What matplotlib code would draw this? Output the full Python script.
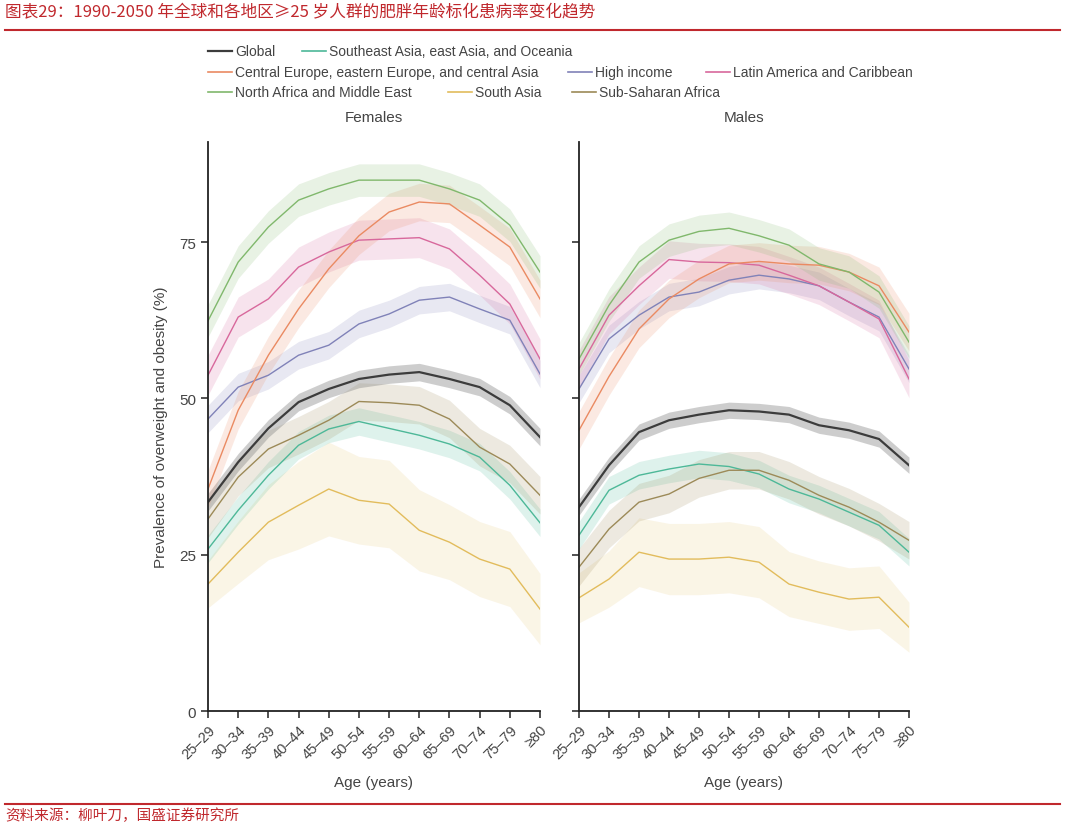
import matplotlib
matplotlib.use("Agg")
import matplotlib.pyplot as plt
from matplotlib.lines import Line2D
import numpy as np

ages = ["25–29", "30–34", "35–39", "40–44", "45–49", "50–54", "55–59",
        "60–64", "65–69", "70–74", "75–79", "≥80"]
yticks = [0, 25, 50, 75]

series_names = ["Global", "Southeast Asia, east Asia, and Oceania",
                "Central Europe, eastern Europe, and central Asia", "High income",
                "Latin America and Caribbean", "North Africa and Middle East",
                "South Asia", "Sub-Saharan Africa"]
series_colors = ["#3c3c3c", "#4db898", "#ea8a62", "#8082b8", "#d8689c",
                 "#80b86c", "#e2bc5c", "#9c8a58"]

# Females (%)
f_global = [33.4, 39.8, 45.2, 49.4, 51.5, 53.1, 53.8, 54.2, 53.1, 51.8, 48.9, 43.8]
f_sea = [25.9, 32.1, 37.7, 42.5, 45.1, 46.3, 45.2, 44.1, 42.7, 40.6, 36.1, 30.1]
f_ceu = [35.5, 48.1, 56.9, 64.3, 70.7, 76.0, 79.8, 81.4, 81.1, 77.7, 74.2, 65.9]
f_hi = [46.7, 51.8, 53.7, 56.9, 58.5, 61.9, 63.5, 65.7, 66.2, 64.3, 62.5, 53.9]
f_lat = [53.7, 63.0, 65.9, 71.0, 73.4, 75.3, 75.5, 75.7, 73.9, 69.7, 65.1, 56.3]
f_naf = [62.4, 71.8, 77.4, 81.7, 83.5, 84.9, 84.9, 84.9, 83.5, 81.7, 77.7, 70.2]
f_sas = [20.3, 25.4, 30.2, 32.9, 35.5, 33.7, 33.1, 28.9, 27.0, 24.3, 22.7, 16.3]
f_ssa = [30.7, 37.4, 41.9, 44.1, 46.5, 49.5, 49.3, 48.9, 46.7, 42.2, 39.5, 34.5]

# Males (%)
m_global = [32.6, 39.3, 44.6, 46.5, 47.4, 48.1, 47.9, 47.4, 45.7, 44.9, 43.5, 39.3]
m_sea = [28.1, 35.3, 37.7, 38.7, 39.5, 39.1, 37.9, 35.5, 33.9, 31.8, 29.7, 25.4]
m_ceu = [44.9, 53.5, 61.1, 65.9, 69.1, 71.5, 71.9, 71.5, 71.3, 70.2, 68.0, 60.6]
m_hi = [51.5, 59.5, 63.3, 66.2, 67.0, 68.9, 69.7, 69.1, 68.0, 65.4, 63.0, 54.7]
m_lat = [54.7, 63.3, 68.0, 72.2, 71.8, 71.7, 71.3, 69.7, 68.0, 65.4, 62.7, 53.1]
m_naf = [56.3, 64.9, 71.8, 75.3, 76.7, 77.2, 76.0, 74.5, 71.5, 70.2, 67.0, 59.0]
m_sas = [18.1, 21.1, 25.4, 24.3, 24.3, 24.6, 23.8, 20.3, 19.0, 17.9, 18.2, 13.4]
m_ssa = [23.0, 29.1, 33.4, 34.7, 37.2, 38.5, 38.5, 36.9, 34.5, 32.6, 30.2, 27.3]

# Half-widths of uncertainty bands (percentage points)
f_ci = [1.4, 2.2, 3.0, 2.2, 3.2, 2.6, 6.5, 3.0]
m_ci = [1.3, 2.2, 3.0, 2.2, 3.0, 2.6, 5.5, 3.0]
f_sas_ci = [3.8, 5.0, 6.0, 7.0, 7.5, 7.0, 7.0, 6.5, 6.0, 6.0, 6.0, 5.7]
m_sas_ci = [4.0, 4.5, 5.5, 5.7, 5.7, 5.7, 5.7, 5.2, 5.0, 5.0, 5.0, 4.0]

females = [f_global, f_sea, f_ceu, f_hi, f_lat, f_naf, f_sas, f_ssa]
males = [m_global, m_sea, m_ceu, m_hi, m_lat, m_naf, m_sas, m_ssa]

plt.rcParams['font.family'] = ['Liberation Sans Narrow', 'Liberation Sans', 'DejaVu Sans']
TXT = "#444444"
RED = "#c0282d"

fig = plt.figure(figsize=(10.65, 8.29), dpi=100)
W, H = 1065, 829

def px_ax(x0, x1, ytop, ybot):
    return fig.add_axes([x0 / W, 1 - ybot / H, (x1 - x0) / W, (ybot - ytop) / H])

axL = px_ax(208, 540, 143, 712)
axR = px_ax(579, 909, 143, 712)

x = np.arange(len(ages))
for ax, data, ci, sas_ci, title in [(axL, females, f_ci, f_sas_ci, "Females"),
                                    (axR, males, m_ci, m_sas_ci, "Males")]:
    order = [6, 1, 7, 0, 3, 4, 2, 5]
    for k in order:
        vals = np.array(data[k])
        hw = np.array(sas_ci) if k == 6 else np.full(len(vals), ci[k])
        col = series_colors[k]
        a = 0.42 if k == 0 else (0.15 if k == 6 else 0.18)
        fc = "#8a8a8a" if k == 0 else col
        ax.fill_between(x, vals - hw, vals + hw, color=fc, alpha=a, lw=0)
        ax.plot(x, vals, color=col, lw=1.6 if k == 0 else 1.0)
    ax.set_xlim(0, 11)
    ax.set_ylim(0, 91)
    ax.set_yticks(yticks)
    ax.set_xticks(x)
    ax.set_xticklabels(ages, rotation=45, ha="right", rotation_mode="anchor",
                       fontsize=10.5, color=TXT)
    for s in ["top", "right"]:
        ax.spines[s].set_visible(False)
    for s in ["left", "bottom"]:
        ax.spines[s].set_linewidth(1.3)
        ax.spines[s].set_color("#222222")
    ax.tick_params(axis="both", direction="out", length=5, width=1.1, color="#222222")
    ax.tick_params(axis="x", pad=3)
    ax.set_xlabel("Age (years)", fontsize=11, color=TXT, labelpad=10)
    ax.set_title(title, fontsize=11, color=TXT, pad=15)

axL.set_yticklabels([str(v) for v in yticks], fontsize=11, color=TXT)
axL.set_ylabel("Prevalence of overweight and obesity (%)", fontsize=11, color=TXT, labelpad=8)
axR.set_yticklabels([])

# Legend (manual layout)
legend_pos = [(208, 52), (302, 52), (208, 73), (568, 73), (706, 73),
              (208, 93), (448, 93), (572, 93)]
for k, (lx, ly) in enumerate(legend_pos):
    yy = 1 - ly / H
    fig.add_artist(Line2D([lx / W, (lx + 24) / W], [yy, yy],
                          color=series_colors[k], lw=1.6 if k == 0 else 1.2))
    fig.text((lx + 27) / W, yy, series_names[k], fontsize=10, color=TXT,
             va="center", ha="left")

# Title, header and footer
cjk = ['Noto Sans CJK SC', 'DejaVu Sans']
fig.text(5 / W, 1 - 13 / H, "图表29：1990-2050 年全球和各地区≥25 岁人群的肥胖年龄标化患病率变化趋势",
         fontsize=12, color=RED, style="italic", va="center", ha="left", family=cjk)
fig.add_artist(Line2D([5 / W, 1060 / W], [1 - 31 / H, 1 - 31 / H], color=RED, lw=1.5))
fig.add_artist(Line2D([5 / W, 1060 / W], [1 - 805 / H, 1 - 805 / H], color=RED, lw=1.5))
fig.text(5 / W, 1 - 816 / H, "资料来源：柳叶刀，国盛证券研究所", fontsize=10.5, color=RED,
         style="italic", va="center", ha="left", family=cjk)

fig.savefig("out.png", dpi=100, facecolor="white")
